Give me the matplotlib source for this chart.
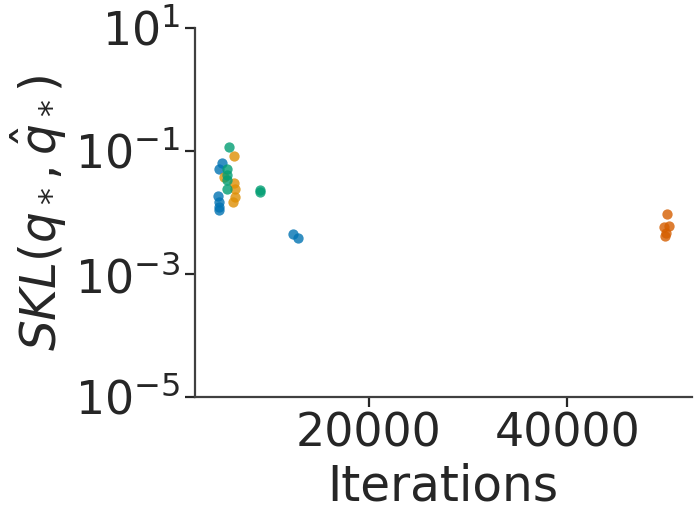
import matplotlib
matplotlib.use("Agg")
import matplotlib.pyplot as plt
import seaborn as sns

sns.set_theme(style="ticks")
plt.rcParams['font.family'] = ['DejaVu Sans']

palette = sns.color_palette("colorblind")

# iterations and SKL values per group
blue_x = [5226, 4925, 4824, 4985, 4925, 4985, 12362, 12865]
blue_y = [0.0628, 0.0502, 0.0185, 0.0149, 0.0124, 0.0112, 0.0044, 0.0039]

orange_x = [6433, 6433, 5500, 6593, 6593, 6332]
orange_y = [0.0826, 0.0297, 0.038, 0.0237, 0.018, 0.0146]

green_x = [5990, 5759, 5729, 5729, 5729, 9096, 9096]
green_y = [0.1146, 0.0502, 0.0406, 0.0336, 0.0237, 0.0231, 0.0217]

red_x = [49980, 49708, 50211, 49879, 49800]
red_y = [0.0094, 0.0058, 0.0061, 0.0046, 0.0042]

fig = plt.figure(figsize=(7, 5.19), dpi=100)
ax = fig.add_axes([0.2786, 0.235, 0.7094, 0.711])

groups = [(blue_x, blue_y, palette[0]),
          (orange_x, orange_y, palette[1]),
          (green_x, green_y, palette[2]),
          (red_x, red_y, palette[3])]
for xs, ys, c in groups:
    ax.scatter(xs, ys, s=55, color=c, alpha=0.8, linewidths=0)

ax.set_yscale('log')
ax.set_ylim(1e-5, 1e1)
ax.set_yticks([1e-5, 1e-3, 1e-1, 1e1])
ax.minorticks_off()
ax.set_xticks([20000, 40000])
ax.tick_params(labelsize=33, colors='.15', length=7, width=1.6)
for s in ['left', 'bottom']:
    ax.spines[s].set_linewidth(1.6)
    ax.spines[s].set_color('.25')
sns.despine(ax=ax)

ax.set_xlabel('Iterations', fontsize=35, color='.15')
ax.set_ylabel(r'$SKL(q_*, \hat{q}_*)$', fontsize=35, color='.15')

fig.savefig('out.png', dpi=100)
